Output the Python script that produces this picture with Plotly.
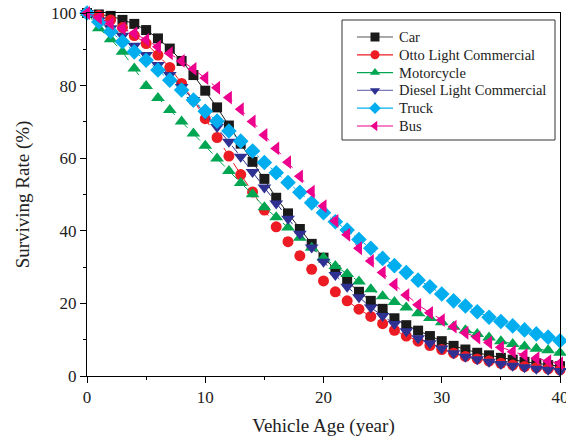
import plotly.graph_objects as go

# Vehicle age in years (one reading per year)
age = list(range(0, 41))

car = [100, 99.6, 99.2, 98.1, 97.0, 95.3, 93.0, 90.2, 86.8, 82.9, 78.6, 74.0, 69.0, 64.0,
       59.0, 54.3, 49.1, 44.8, 40.5, 36.4, 32.6, 29.2, 26.1, 23.2, 20.7, 18.5, 15.9, 14.0,
       12.5, 11.0, 9.6, 8.3, 7.3, 6.4, 5.7, 5.0, 4.5, 3.9, 3.5, 3.0, 2.7]
otto_lc = [100, 99.3, 98.1, 96.0, 93.8, 91.6, 88.4, 85.0, 80.6, 76.0, 70.9, 65.7, 60.6, 55.5,
           50.7, 45.7, 41.1, 37.0, 33.1, 29.4, 26.2, 23.2, 20.7, 18.4, 16.4, 14.4, 12.6, 11.0,
           9.6, 8.4, 7.3, 6.3, 5.4, 4.7, 4.1, 3.5, 3.0, 2.6, 2.3, 2.0, 1.7]
motorcycle = [100, 95.8, 92.8, 89.3, 84.7, 79.9, 76.6, 73.3, 70.1, 66.8, 63.4, 59.9, 56.5, 53.2,
              50.1, 46.5, 43.7, 40.9, 38.1, 35.3, 32.6, 30.3, 28.1, 26.0, 23.9, 22.0, 20.4, 18.9,
              17.3, 16.0, 14.8, 13.6, 12.6, 11.6, 10.6, 9.6, 8.8, 8.1, 7.5, 7.1, 6.4]
diesel_lc = [100, 97.9, 95.8, 93.7, 91.0, 88.4, 85.7, 82.9, 79.6, 76.0, 72.2, 68.6, 64.5, 60.4,
             56.2, 51.9, 47.5, 43.3, 39.2, 35.4, 31.5, 27.8, 24.6, 21.7, 18.9, 16.5, 14.3, 12.3,
             10.4, 9.0, 7.6, 6.3, 5.3, 4.6, 3.9, 3.3, 2.8, 2.4, 2.0, 1.7, 1.4]
truck = [100, 97.5, 94.9, 92.1, 89.3, 87.0, 84.3, 81.5, 78.8, 76.0, 72.9, 70.2, 67.5, 64.7,
         62.0, 58.8, 56.0, 53.3, 50.6, 47.7, 45.0, 42.5, 40.2, 37.6, 35.2, 32.4, 30.4, 28.5,
         26.4, 24.6, 22.6, 20.7, 19.3, 17.7, 16.2, 15.0, 13.8, 12.7, 11.6, 10.7, 9.7]
bus = [100, 98.7, 97.1, 95.8, 94.4, 92.6, 90.7, 88.9, 86.8, 84.6, 82.1, 79.4, 76.7, 73.5,
       70.1, 66.4, 62.7, 58.9, 55.0, 50.8, 46.8, 42.7, 38.9, 35.2, 31.7, 28.5, 25.2, 22.3,
       19.6, 17.4, 15.4, 13.6, 11.9, 10.6, 9.2, 7.9, 6.7, 5.8, 4.9, 4.1, 3.5]

series = [
    # name, values, marker colour, marker symbol, marker size, line dash, key line colour
    ("Car", car, "#1a1a1a", "square", 10, "solid", "#555555"),
    ("Otto Light Commercial", otto_lc, "#ed1c24", "circle", 11, "dash", "#ed1c24"),
    ("Motorcycle", motorcycle, "#00a651", "triangle-up", 12, "dash", "#00a651"),
    ("Diesel Light Commercial", diesel_lc, "#2e3192", "triangle-down", 12, "dash", "#7a7ab8"),
    ("Truck", truck, "#00aeef", "diamond", 12, "dot", "#00aeef"),
    ("Bus", bus, "#ec008c", "triangle-left", 12, "dash", "#ec008c"),
]

font_family = "Liberation Serif, Times New Roman, serif"
text_color = "#222222"

fig = go.Figure()
for name, vals, col, sym, size, dash, lcol in series:
    fig.add_trace(go.Scatter(
        x=age, y=vals, mode="lines+markers", name=name, showlegend=False,
        line=dict(color=col, width=1, dash=dash),
        marker=dict(symbol=sym, size=size, color=col, line=dict(width=0)),
        cliponaxis=False,
    ))

# Key panel: a hidden overlay axis pair spanning the plot area in pixel units
# (x: 87..560 left to right, y: 13..376 top to bottom).
key_left, key_right, key_top, key_bottom = 342, 555, 20, 140
row0, row_step = 37, 17.8
sample_x0, sample_x1, label_x = 357, 393, 397
for i, (name, vals, col, sym, size, dash, lcol) in enumerate(series):
    ry = row0 + i * row_step
    fig.add_trace(go.Scatter(
        x=[sample_x0, sample_x1], y=[ry, ry], mode="lines", xaxis="x2", yaxis="y2",
        line=dict(color=lcol, width=1.2), showlegend=False, hoverinfo="skip",
    ))
    fig.add_trace(go.Scatter(
        x=[(sample_x0 + sample_x1) / 2], y=[ry], mode="markers", xaxis="x2", yaxis="y2",
        marker=dict(symbol=sym, size=9, color=col, line=dict(width=0)),
        showlegend=False, hoverinfo="skip",
    ))
    fig.add_annotation(
        x=label_x, y=ry, xref="x2", yref="y2", text=name, showarrow=False,
        xanchor="left", yanchor="middle",
        font=dict(family=font_family, size=14.5, color=text_color),
    )
fig.add_shape(type="rect", xref="x2", yref="y2", x0=key_left, x1=key_right,
              y0=key_top, y1=key_bottom, line=dict(color="#333333", width=1),
              fillcolor="rgba(255,255,255,0)", layer="below")

axis_common = dict(
    showgrid=False, zeroline=False, showline=True, linecolor="black", linewidth=1,
    mirror=True, ticks="outside", ticklen=6, tickwidth=1, tickcolor="black",
    tickfont=dict(family=font_family, size=17, color=text_color),
    ticklabeloverflow="allow", automargin=False,
)

fig.update_layout(
    width=566, height=440,
    margin=dict(l=87, r=6, t=13, b=64, autoexpand=False),
    paper_bgcolor="white", plot_bgcolor="white",
    font=dict(family=font_family, color=text_color),
    showlegend=False,
    xaxis=dict(range=[0, 40], dtick=10, tick0=0,
               minor=dict(dtick=5, ticks="outside", ticklen=3, tickcolor="black"),
               title=dict(text="Vehicle Age (year)", font=dict(family=font_family, size=19), standoff=12),
               **axis_common),
    yaxis=dict(range=[0, 100], dtick=20, tick0=0,
               minor=dict(dtick=10, ticks="outside", ticklen=3, tickcolor="black"),
               title=dict(text="Surviving Rate (%)", font=dict(family=font_family, size=19), standoff=16),
               **axis_common),
    xaxis2=dict(range=[87, 560], overlaying="x", visible=False, fixedrange=True),
    yaxis2=dict(range=[376, 13], overlaying="y", visible=False, fixedrange=True),
)

fig.write_html("out.html")
